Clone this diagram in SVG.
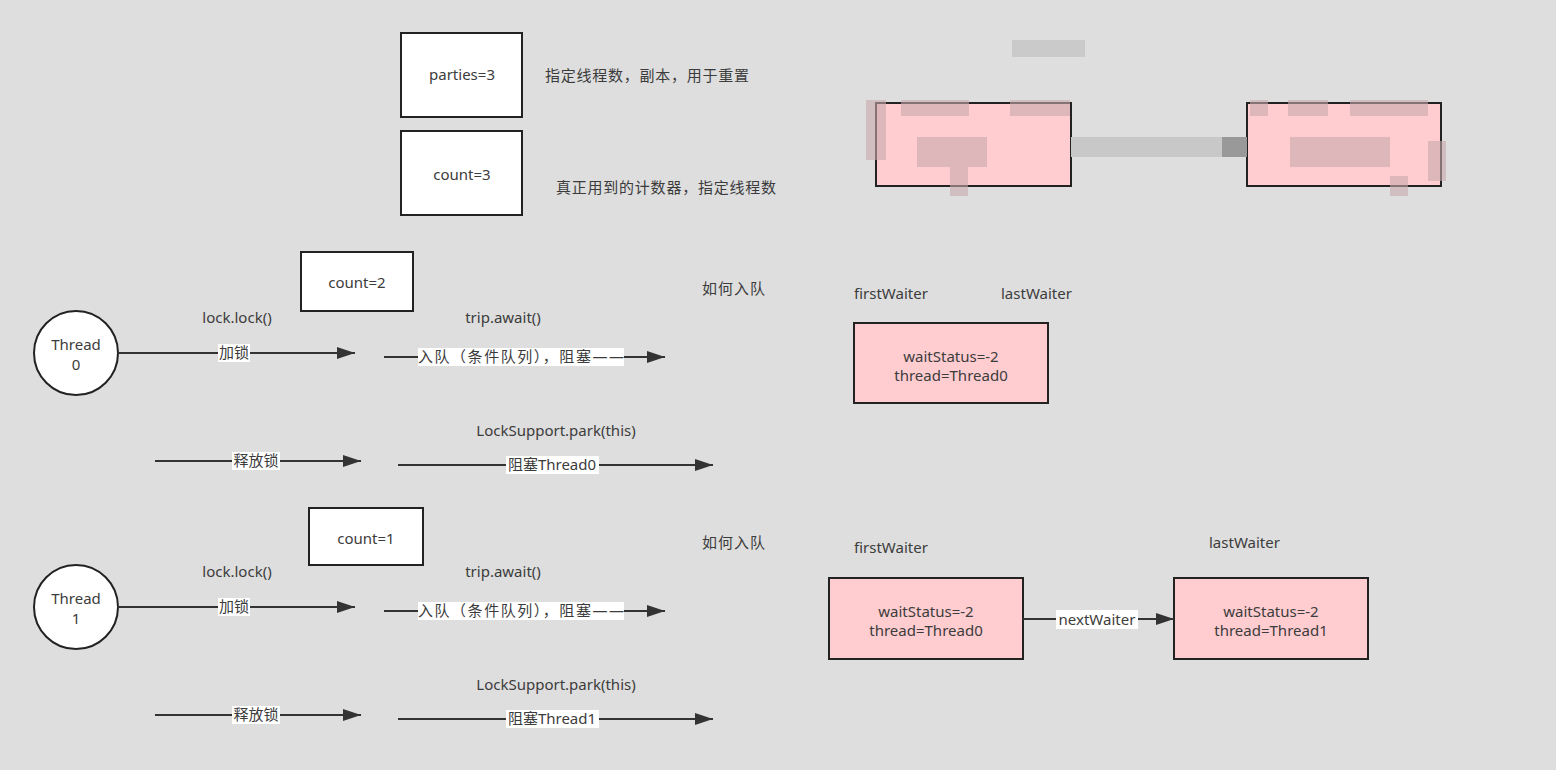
<svg xmlns="http://www.w3.org/2000/svg" width="1556" height="770" viewBox="0 0 1556 770">
<defs>
<marker id="ah" markerWidth="20" markerHeight="12" refX="18" refY="6" orient="auto" markerUnits="userSpaceOnUse">
<path d="M0,0 L18,6 L0,12 Z" fill="#333"/>
</marker>
<style>
text{font-family:"Noto Sans","Noto Sans CJK SC",sans-serif;font-size:15px;fill:#3c3c3c}
.c{text-anchor:middle}
.box{fill:#fff;stroke:#222;stroke-width:2}
.pink{fill:#ffccd0;stroke:#222;stroke-width:2}
.ln{stroke:#333;stroke-width:2;fill:none}
.lbl{fill:#fff}
.mos{fill:#c8a8ac;opacity:0.6}
</style>
</defs>
<rect x="0" y="0" width="1556" height="770" fill="#dedede"/>

<g id="parties">
<rect class="box" x="401" y="33" width="121" height="84"/>
<text class="c" x="462" y="80">parties=3</text>
</g>
<text x="545" y="81" textLength="204" lengthAdjust="spacing">指定线程数，副本，用于重置</text>
<g id="count3">
<rect class="box" x="401" y="131" width="121" height="84"/>
<text class="c" x="462" y="180">count=3</text>
</g>
<text x="556" y="193" textLength="220" lengthAdjust="spacing">真正用到的计数器，指定线程数</text>

<g id="masked">
<rect x="1012" y="40" width="73" height="17" fill="#c4c4c4" opacity="0.8"/>
<rect class="pink" x="876" y="103" width="195" height="83"/>
<rect class="pink" x="1247" y="103" width="194" height="83"/>
<rect x="1071" y="137" width="176" height="20" fill="#c8c8c8"/>
<rect x="1222" y="137" width="25" height="20" fill="#999"/>
<rect class="mos" x="866" y="100" width="20" height="60"/>
<rect class="mos" x="901" y="100" width="68" height="16"/>
<rect class="mos" x="1010" y="100" width="60" height="16"/>
<rect class="mos" x="917" y="137" width="70" height="30"/>
<rect class="mos" x="950" y="167" width="18" height="29"/>
<rect class="mos" x="1250" y="100" width="18" height="16"/>
<rect class="mos" x="1288" y="100" width="40" height="16"/>
<rect class="mos" x="1350" y="100" width="78" height="16"/>
<rect class="mos" x="1290" y="137" width="100" height="30"/>
<rect class="mos" x="1428" y="141" width="18" height="40"/>
<rect class="mos" x="1390" y="176" width="18" height="20"/>
</g>

<!-- Row 1 -->
<g id="thread0">
<circle cx="76" cy="353" r="42" fill="#fff" stroke="#222" stroke-width="2"/>
<text class="c" x="76" y="350">Thread</text>
<text class="c" x="76" y="370">0</text>
</g>
<g id="count2">
<rect class="box" x="301" y="252" width="112" height="59"/>
<text class="c" x="357" y="288">count=2</text>
</g>
<text class="c" x="237" y="323">lock.lock()</text>
<text class="c" x="503" y="323">trip.await()</text>
<text x="702" y="294" textLength="63" lengthAdjust="spacing">如何入队</text>
<text x="854" y="299">firstWaiter</text>
<text x="1001" y="299">lastWaiter</text>
<g id="node0a">
<rect class="pink" x="854" y="323" width="194" height="80"/>
<text class="c" x="951" y="362">waitStatus=-2</text>
<text class="c" x="951" y="381">thread=Thread0</text>
</g>
<text class="c" x="556" y="436">LockSupport.park(this)</text>

<!-- Row 2 -->
<g id="thread1">
<circle cx="76" cy="607" r="42" fill="#fff" stroke="#222" stroke-width="2"/>
<text class="c" x="76" y="604">Thread</text>
<text class="c" x="76" y="624">1</text>
</g>
<g id="count1">
<rect class="box" x="309" y="508" width="114" height="57"/>
<text class="c" x="366" y="544">count=1</text>
</g>
<text class="c" x="237" y="577">lock.lock()</text>
<text class="c" x="503" y="577">trip.await()</text>
<text x="702" y="548" textLength="63" lengthAdjust="spacing">如何入队</text>
<text x="854" y="553">firstWaiter</text>
<text x="1209" y="548">lastWaiter</text>
<g id="node0b">
<rect class="pink" x="829" y="578" width="194" height="81"/>
<text class="c" x="926" y="617">waitStatus=-2</text>
<text class="c" x="926" y="636">thread=Thread0</text>
</g>
<g id="node1">
<rect class="pink" x="1174" y="578" width="194" height="81"/>
<text class="c" x="1271" y="617">waitStatus=-2</text>
<text class="c" x="1271" y="636">thread=Thread1</text>
</g>
<text class="c" x="556" y="690">LockSupport.park(this)</text>

<g id="connectors">
<line class="ln" x1="118" y1="353" x2="355" y2="353" marker-end="url(#ah)"/>
<rect class="lbl" x="218" y="344" width="32" height="18"/>
<text class="c" x="234" y="358">加锁</text>
<line class="ln" x1="384" y1="357" x2="665" y2="357" marker-end="url(#ah)"/>
<rect class="lbl" x="418" y="348" width="206" height="18"/>
<text x="418" y="362" textLength="206" lengthAdjust="spacing">入队（条件队列），阻塞——</text>
<line class="ln" x1="155" y1="461" x2="361" y2="461" marker-end="url(#ah)"/>
<rect class="lbl" x="232" y="452" width="48" height="18"/>
<text class="c" x="256" y="466">释放锁</text>
<line class="ln" x1="398" y1="465" x2="713" y2="465" marker-end="url(#ah)"/>
<rect class="lbl" x="506" y="456" width="93" height="18"/>
<text class="c" x="552" y="470">阻塞Thread0</text>

<line class="ln" x1="118" y1="607" x2="355" y2="607" marker-end="url(#ah)"/>
<rect class="lbl" x="218" y="598" width="32" height="18"/>
<text class="c" x="234" y="612">加锁</text>
<line class="ln" x1="384" y1="611" x2="665" y2="611" marker-end="url(#ah)"/>
<rect class="lbl" x="418" y="602" width="206" height="18"/>
<text x="418" y="616" textLength="206" lengthAdjust="spacing">入队（条件队列），阻塞——</text>
<line class="ln" x1="155" y1="715" x2="361" y2="715" marker-end="url(#ah)"/>
<rect class="lbl" x="232" y="706" width="48" height="18"/>
<text class="c" x="256" y="720">释放锁</text>
<line class="ln" x1="398" y1="719" x2="713" y2="719" marker-end="url(#ah)"/>
<rect class="lbl" x="506" y="710" width="93" height="18"/>
<text class="c" x="552" y="724">阻塞Thread1</text>

<line class="ln" x1="1023" y1="619" x2="1174" y2="619" marker-end="url(#ah)"/>
<rect class="lbl" x="1056" y="610" width="82" height="19"/>
<text class="c" x="1097" y="625">nextWaiter</text>
</g>
</svg>
